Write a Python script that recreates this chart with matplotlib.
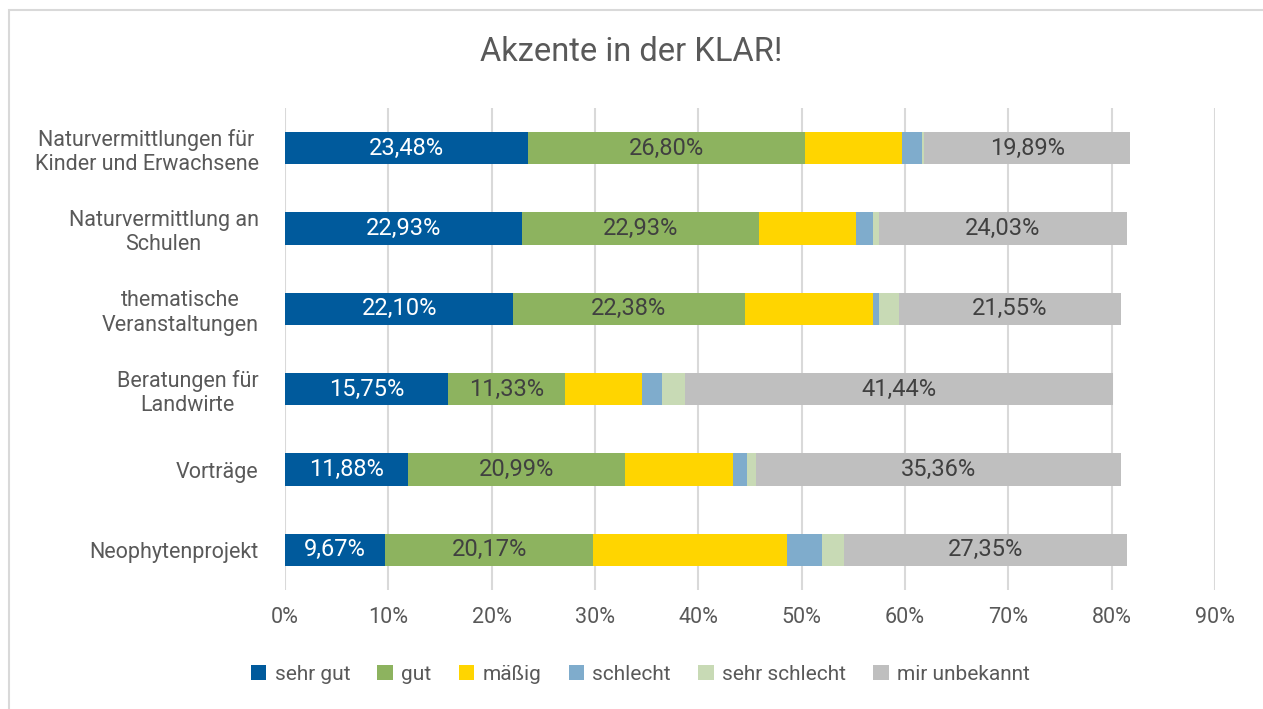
import numpy as np
import matplotlib
matplotlib.use("Agg")
from matplotlib import pyplot as plt
from matplotlib.patches import Rectangle

plt.rcParams['font.family'] = ['Roboto', 'DejaVu Sans']

categories = ["Naturvermittlungen für\nKinder und Erwachsene",
              "Naturvermittlung an\nSchulen",
              "thematische\nVeranstaltungen",
              "Beratungen für\nLandwirte",
              "Vorträge",
              "Neophytenprojekt"]

series_names = ["sehr gut", "gut", "mäßig", "schlecht", "sehr schlecht", "mir unbekannt"]

# values in percent, one list per rating
sehr_gut = [23.48, 22.93, 22.10, 15.75, 11.88, 9.67]
gut = [26.80, 22.93, 22.38, 11.33, 20.99, 20.17]
maessig = [9.39, 9.39, 12.43, 7.46, 10.50, 18.78]
schlecht = [1.93, 1.66, 0.55, 1.93, 1.38, 3.31]
sehr_schlecht = [0.28, 0.55, 1.93, 2.21, 0.83, 2.21]
unbekannt = [19.89, 24.03, 21.55, 41.44, 35.36, 27.35]

colors = ["#005A9C", "#8DB35F", "#FFD500", "#7FACCC", "#C8DAB5", "#BFBFBF"]
show_label = [True, True, False, False, False, True]
label_colors = ["white", "#404040", "#404040", "#404040", "#404040", "#404040"]

text_col = "#595959"

fig = plt.figure(figsize=(12.63, 7.09), dpi=100)
ax = fig.add_axes([285/1263, 1-590/709, 930/1263, 482/709])

series = [sehr_gut, gut, maessig, schlecht, sehr_schlecht, unbekannt]
y = np.arange(len(categories))
left = np.zeros(len(categories))
for name, vals, c, lab, lc in zip(series_names, series, colors, show_label, label_colors):
    vals = np.array(vals)
    bars = ax.barh(y, vals, left=left, height=0.4, color=c, label=name, zorder=3)
    if lab:
        for b, v in zip(bars, vals):
            ax.text(b.get_x() + b.get_width()/2, b.get_y() + b.get_height()/2,
                    f"{v:.2f}%".replace(".", ","), ha="center", va="center",
                    color=lc, fontsize=17, zorder=4)
    left += vals

ax.set_xlim(0, 90)
ax.set_ylim(len(categories) - 0.5, -0.5)
ax.set_xticks(np.arange(0, 91, 10))
ax.set_xticklabels([f"{t}%" for t in range(0, 91, 10)])
ax.set_yticks(y)
ax.set_yticklabels(categories)
for t in ax.get_yticklabels():
    t.set_multialignment("center")
ax.tick_params(axis="both", length=0, colors=text_col, labelsize=15.5)
ax.tick_params(axis="y", pad=19)
ax.tick_params(axis="x", pad=12)
ax.grid(axis="x", color="#D9D9D9", linewidth=1.5, zorder=0)
for s in ax.spines.values():
    s.set_visible(False)

fig.text(0.5, 1-52/709, "Akzente in der KLAR!", ha="center", va="center",
         fontsize=23.5, color=text_col)

handles, labels = ax.get_legend_handles_labels()
fig.legend(handles, labels, loc="center", bbox_to_anchor=(0.507, 1-674/709), ncol=6,
           frameon=False, fontsize=15, labelcolor=text_col, handlelength=0.75,
           handleheight=0.75, handletextpad=0.4, columnspacing=1.3)

fig.add_artist(Rectangle((9/1263, -0.1), 1.2, 1.1 - 9.5/709, transform=fig.transFigure,
                         fill=False, edgecolor="#D9D9D9", linewidth=1.5))

fig.savefig("out.png", dpi=100, facecolor="white")
